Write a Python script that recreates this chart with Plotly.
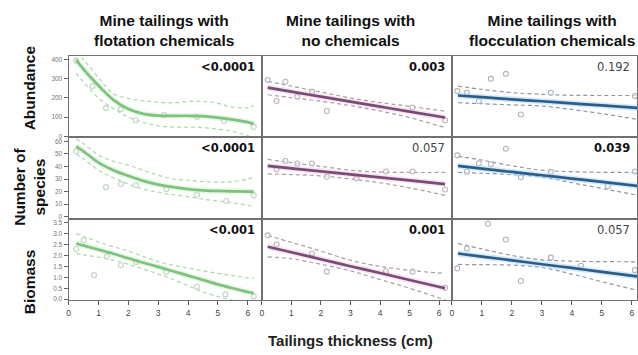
import plotly.graph_objects as go

# ---------------- data ----------------
col_titles = ["Mine tailings with<br>flotation chemicals",
              "Mine tailings with<br>no chemicals",
              "Mine tailings with<br>flocculation chemicals"]
row_titles = ["Abundance", "Number of<br>species", "Biomass"]
x_title = "Tailings thickness (cm)"

p_values = [["<0.0001", "0.003", "0.192"],
            ["<0.0001", "0.057", "0.039"],
            ["<0.001", "0.001", "0.057"]]
p_bold = [[True, True, False],
          [True, False, True],
          [True, True, False]]

x_ticks = [0, 1, 2, 3, 4, 5, 6]
y_ticks_abund = [0, 100, 200, 300, 400]
y_ticks_species = [0, 10, 20, 30, 40, 50, 60]
y_ticks_biomass = [0.0, 0.5, 1.0, 1.5, 2.0, 2.5, 3.0, 3.5]

# curve grid for flotation (non-linear fits)
flot_x = [0.25, 0.5, 1, 1.5, 2, 2.5, 3, 3.5, 4, 4.5, 5, 5.5, 6, 6.2]
# grid for linear fits
lin_x = [0.2, 1, 2, 3, 4, 5, 6.2]

# Flotation - abundance
flot_ab_fit = [400, 350, 265, 190, 142, 117, 108, 107, 107, 105, 97, 87, 74, 66]
flot_ab_up = [440, 400, 305, 222, 198, 186, 178, 175, 182, 183, 172, 152, 150, 160]
flot_ab_lo = [330, 283, 200, 145, 100, 72, 55, 48, 48, 45, 37, 25, 2, -10]
flot_ab_px = [0.25, 0.8, 1.25, 1.75, 2.25, 3.2, 4.3, 5.2, 6.2]
flot_ab_py = [395, 262, 147, 142, 84, 112, 100, 80, 49]

# Flotation - species
flot_sp_fit = [56, 52, 43, 37, 32.5, 28.5, 25.5, 23.5, 22, 21, 20.5, 20.2, 20, 20]
flot_sp_up = [62, 58, 49, 44, 41, 37, 33, 30, 29, 28, 27.5, 28, 30, 31.5]
flot_sp_lo = [50, 46, 37, 31, 26, 22, 19.5, 17.5, 16, 14, 12.5, 11, 9, 8]
flot_sp_px = [0.25, 1.25, 1.75, 2.25, 3.27, 4.3, 5.28, 6.2]
flot_sp_py = [52, 23.5, 26, 25, 22, 17.5, 12.5, 17]

# Flotation - biomass
flot_bm_fit = [2.55, 2.45, 2.27, 2.08, 1.87, 1.67, 1.48, 1.28, 1.08, 0.88, 0.68, 0.5, 0.33, 0.27]
flot_bm_up = [3.0, 2.87, 2.62, 2.4, 2.2, 1.95, 1.72, 1.55, 1.42, 1.3, 1.18, 1.08, 0.98, 0.95]
flot_bm_lo = [2.1, 2.03, 1.92, 1.78, 1.6, 1.38, 1.15, 0.9, 0.62, 0.33, 0.12, -0.05, -0.25, -0.35]
flot_bm_px = [0.25, 0.5, 0.85, 1.28, 1.75, 2.26, 3.27, 4.3, 5.25, 6.2]
flot_bm_py = [2.3, 2.7, 1.1, 1.95, 1.55, 1.7, 1.25, 0.57, 0.22, 0.12]

# No chemicals - abundance
none_ab_fit = [254, 233, 207, 181, 155, 129, 98]
none_ab_up = [287, 262, 231, 200, 176, 156, 131]
none_ab_lo = [217, 202, 183, 160, 132, 98, 45]
none_ab_px = [0.2, 0.5, 0.8, 1.2, 1.7, 2.2, 5.1, 6.2]
none_ab_py = [294, 184, 285, 207, 233, 132, 150, 83]

# No chemicals - species
none_sp_fit = [40.4, 38.5, 36.1, 33.7, 31.3, 28.9, 26]
none_sp_up = [45.6, 43, 40, 37, 35.5, 35.2, 35.2]
none_sp_lo = [34, 33.5, 32.5, 30, 27, 23, 17]
none_sp_px = [0.5, 0.8, 1.2, 1.7, 2.2, 3.2, 4.2, 5.1, 6.2]
none_sp_py = [37.8, 44.3, 42.3, 42.3, 31.8, 30.5, 36, 36, 21.6]

# No chemicals - biomass
none_bm_fit = [2.4, 2.15, 1.83, 1.51, 1.2, 0.88, 0.5]
none_bm_up = [2.92, 2.6, 2.2, 1.78, 1.5, 1.32, 1.18]
none_bm_lo = [1.94, 1.85, 1.6, 1.3, 0.9, 0.5, -0.03]
none_bm_px = [0.2, 0.5, 1.7, 2.2, 4.2, 5.1, 6.2]
none_bm_py = [2.92, 2.5, 2.09, 1.26, 1.28, 1.26, 0.52]

# Flocculation - abundance
floc_ab_fit = [213, 204, 193, 183, 172, 161, 148]
floc_ab_up = [262, 245, 228, 219, 214, 213, 213]
floc_ab_lo = [175, 170, 164, 158, 140, 118, 88]
floc_ab_px = [0.18, 0.5, 0.9, 1.3, 1.8, 2.3, 3.3, 6.1]
floc_ab_py = [236, 227, 184, 300, 326, 114, 227, 210]

# Flocculation - species
floc_sp_fit = [40.4, 38.3, 35.6, 33, 30.3, 27.7, 24.5]
floc_sp_up = [48.2, 45, 40.5, 37, 35.8, 35.3, 35.2]
floc_sp_lo = [35.2, 34.5, 33.5, 31.5, 27, 22.5, 17]
floc_sp_px = [0.18, 0.5, 0.9, 1.3, 1.8, 2.3, 3.3, 5.2, 6.1]
floc_sp_py = [48.8, 35.7, 42.5, 41.7, 54, 31.3, 35.7, 24.3, 36]

# Flocculation - biomass
floc_bm_fit = [2.09, 1.95, 1.78, 1.6, 1.43, 1.25, 1.04]
floc_bm_up = [2.55, 2.3, 2.0, 1.8, 1.74, 1.72, 1.71]
floc_bm_lo = [1.59, 1.58, 1.56, 1.45, 1.15, 0.8, 0.4]
floc_bm_px = [0.18, 0.5, 1.2, 1.8, 2.3, 3.3, 4.3, 6.1]
floc_bm_py = [1.41, 2.32, 3.45, 2.73, 0.83, 1.9, 1.53, 1.33]

# ---------------- styling ----------------
W, H = 638, 355
col_px = [(67, 261), (261, 452), (452, 638)]
row_px = [(56, 138), (138, 220), (220, 302)]
x_ranges = [[0, 6.47], [0, 6.43], [0, 6.17]]
y_ranges = [[-5, 421], [-1.6, 63.2], [-0.05, 3.68]]

fit_col = ["#7cc47c", "#7d4a78", "#2c5d8a"]
halo_col = ["rgba(185,225,185,0.3)", "rgba(215,175,205,0.3)", "rgba(170,215,240,0.5)"]
dash_col = ["#acd8ac", "#aa9aa8", "#8a98a6"]
pt_col = ["#c2d4c2", "#c0b3bd", "#aeb4bb"]

panels = [
    [(flot_x, flot_ab_fit, flot_ab_up, flot_ab_lo, flot_ab_px, flot_ab_py),
     (lin_x, none_ab_fit, none_ab_up, none_ab_lo, none_ab_px, none_ab_py),
     (lin_x, floc_ab_fit, floc_ab_up, floc_ab_lo, floc_ab_px, floc_ab_py)],
    [(flot_x, flot_sp_fit, flot_sp_up, flot_sp_lo, flot_sp_px, flot_sp_py),
     (lin_x, none_sp_fit, none_sp_up, none_sp_lo, none_sp_px, none_sp_py),
     (lin_x, floc_sp_fit, floc_sp_up, floc_sp_lo, floc_sp_px, floc_sp_py)],
    [(flot_x, flot_bm_fit, flot_bm_up, flot_bm_lo, flot_bm_px, flot_bm_py),
     (lin_x, none_bm_fit, none_bm_up, none_bm_lo, none_bm_px, none_bm_py),
     (lin_x, floc_bm_fit, floc_bm_up, floc_bm_lo, floc_bm_px, floc_bm_py)],
]
y_tickvals = [y_ticks_abund, y_ticks_species, y_ticks_biomass]
y_tickfmt = ["d", "d", ".1f"]

fig = go.Figure()
layout = dict(width=W, height=H, margin=dict(l=0, r=0, t=0, b=0),
              paper_bgcolor="white", plot_bgcolor="white", showlegend=False)
annotations = []

for r in range(3):
    for c in range(3):
        k = r * 3 + c + 1
        xa = "x" if k == 1 else f"x{k}"
        ya = "y" if k == 1 else f"y{k}"
        fx, fit, up, lo, px, py = panels[r][c]
        shape = "spline"
        for arr in (up, lo):
            fig.add_trace(go.Scatter(x=fx, y=arr, mode="lines", xaxis=xa, yaxis=ya,
                                     line=dict(color=dash_col[c], width=1.2, dash="4px,3px", shape=shape),
                                     hoverinfo="skip"))
        fig.add_trace(go.Scatter(x=px, y=py, mode="markers", xaxis=xa, yaxis=ya,
                                 marker=dict(size=5, color="rgba(255,255,255,0.6)",
                                             line=dict(color=pt_col[c], width=1.1)),
                                 hoverinfo="skip"))
        fig.add_trace(go.Scatter(x=fx, y=fit, mode="lines", xaxis=xa, yaxis=ya,
                                 line=dict(color=halo_col[c], width=6, shape=shape), hoverinfo="skip"))
        fig.add_trace(go.Scatter(x=fx, y=fit, mode="lines", xaxis=xa, yaxis=ya,
                                 line=dict(color=fit_col[c], width=2.7, shape=shape), hoverinfo="skip"))

        xd = [col_px[c][0] / W, col_px[c][1] / W]
        yd = [1 - row_px[r][1] / H, 1 - row_px[r][0] / H]
        xkey = "xaxis" if k == 1 else f"xaxis{k}"
        ykey = "yaxis" if k == 1 else f"yaxis{k}"
        bottom = (r == 2)
        left = (c == 0)
        layout[xkey] = dict(domain=xd, range=x_ranges[c], anchor=ya,
                            showgrid=False, zeroline=False, showline=True, mirror=True,
                            linecolor="#707070", linewidth=1.3,
                            tickvals=x_ticks if bottom else [],
                            ticks="outside" if bottom else "", ticklen=4, tickwidth=1,
                            tickcolor="#555555",
                            showticklabels=bottom,
                            tickfont=dict(family="Liberation Sans", size=8.5, color="#444444"))
        layout[ykey] = dict(domain=yd, range=y_ranges[r], anchor=xa,
                            showgrid=False, zeroline=False, showline=True, mirror=True,
                            linecolor="#707070", linewidth=1.3,
                            tickvals=y_tickvals[r] if left else [],
                            tickformat=y_tickfmt[r],
                            ticks="outside" if left else "", ticklen=4, tickwidth=1,
                            tickcolor="#666666",
                            showticklabels=left,
                            tickfont=dict(family="Liberation Sans", size=6.5, color="#777777"))
        bold = p_bold[r][c]
        annotations.append(dict(
            x=(col_px[c][1] - 5) / W, y=1 - (row_px[r][0] + 11) / H,
            xref="paper", yref="paper", xanchor="right", yanchor="middle",
            text=(f"<b>{p_values[r][c]}</b>" if bold else p_values[r][c]),
            showarrow=False,
            font=dict(family="DejaVu Sans", size=11.5, color="#111111" if bold else "#444444")))

col_cx = [163, 350, 553]
for c in range(3):
    annotations.append(dict(x=col_cx[c] / W, y=1 - 31 / H, xref="paper", yref="paper",
                            xanchor="center", yanchor="middle", showarrow=False,
                            text=f"<b>{col_titles[c]}</b>",
                            font=dict(family="Liberation Sans", size=15.5, color="#111111")))
row_cy = [88, 188, 283]
for r in range(3):
    annotations.append(dict(x=28 / W, y=1 - row_cy[r] / H, xref="paper", yref="paper",
                            xanchor="center", yanchor="middle", showarrow=False, textangle=-90,
                            text=f"<b>{row_titles[r]}</b>",
                            font=dict(family="Liberation Sans", size=15.5, color="#111111")))
annotations.append(dict(x=350 / W, y=1 - 342 / H, xref="paper", yref="paper",
                        xanchor="center", yanchor="middle", showarrow=False,
                        text=f"<b>{x_title}</b>",
                        font=dict(family="Liberation Sans", size=15, color="#222222")))

layout["annotations"] = annotations
fig.update_layout(**layout)
fig.write_html("out.html", config={"displayModeBar": False},
               post_script="document.body.style.margin='0';document.body.style.overflow='hidden';")
